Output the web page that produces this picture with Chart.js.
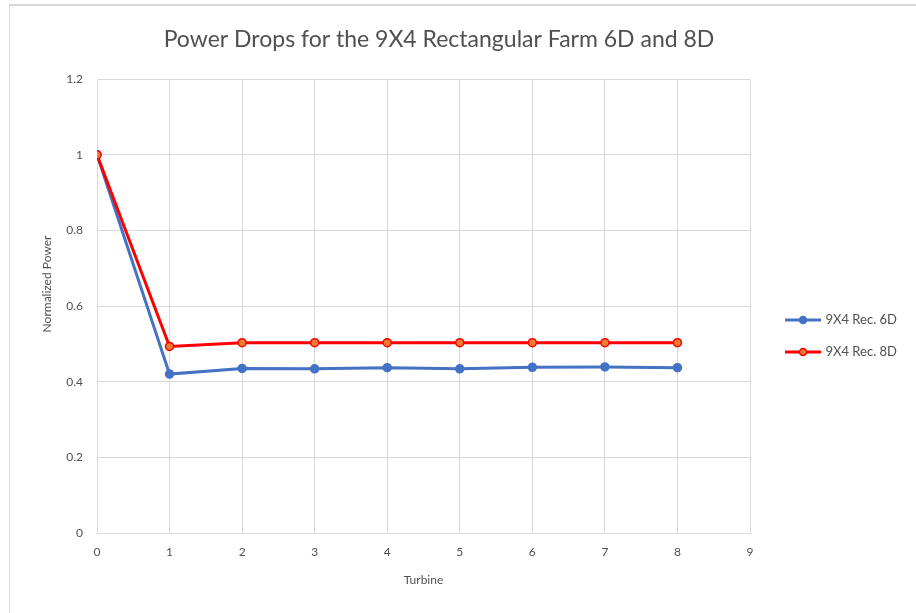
<!DOCTYPE html>
<html>
<head>
<meta charset="utf-8">
<script src="https://cdn.jsdelivr.net/npm/chart.js@4"></script>
<style>
  html, body { margin: 0; padding: 0; background: #ffffff; }
  body { width: 916px; height: 613px; position: relative; overflow: hidden; }
  #frame { position: absolute; left: 9px; top: 4px; width: 1000px; height: 700px;
           border-left: 1px solid #d9d9d9; border-top: 2px solid #d9d9d9; box-sizing: border-box; }
  #wrap { position: absolute; left: 0; top: 0; width: 916px; height: 613px; }
</style>
</head>
<body>
<div id="frame"></div>
<div id="wrap"><canvas id="c" width="916" height="613"></canvas></div>
<script>
// ---- data ----
const chartTitle = 'Power Drops for the 9X4 Rectangular Farm 6D and 8D';
const xAxisTitle = 'Turbine';
const yAxisTitle = 'Normalized Power';
const turbines = [0, 1, 2, 3, 4, 5, 6, 7, 8];
const seriesNames = ['9X4 Rec. 6D', '9X4 Rec. 8D'];
const rec6D = [1.0, 0.420, 0.435, 0.434, 0.437, 0.434, 0.438, 0.439, 0.437];
const rec8D = [1.0, 0.493, 0.503, 0.503, 0.503, 0.503, 0.503, 0.503, 0.503];
const xTickValues = [0, 1, 2, 3, 4, 5, 6, 7, 8, 9];
const xTickLabels = ['0', '1', '2', '3', '4', '5', '6', '7', '8', '9'];
const yTickValues = [0, 0.2, 0.4, 0.6, 0.8, 1.0, 1.2];
const yTickLabels = ['0', '0.2', '0.4', '0.6', '0.8', '1', '1.2'];

// ---- styles ----
const FONT = 'Lato, "Open Sans", sans-serif';
const TEXT = '#505050';
const GRID = '#d9d9d9';
const colors = [
  { line: '#4472C4', fill: '#4472C4' },
  { line: '#FF0000', fill: '#ED7D31' }
];

function makeIcon(c) {
  const cv = document.createElement('canvas');
  cv.width = 36; cv.height = 12;
  const g = cv.getContext('2d');
  g.strokeStyle = c.line; g.lineWidth = 3;
  g.beginPath(); g.moveTo(0, 6); g.lineTo(36, 6); g.stroke();
  g.beginPath(); g.arc(18, 6, 3.5, 0, Math.PI * 2);
  g.fillStyle = c.fill; g.fill();
  g.lineWidth = 1.5; g.strokeStyle = c.line; g.stroke();
  return cv;
}
const legendIcons = colors.map(makeIcon);

const seriesValues = [rec6D, rec8D];
const datasets = seriesValues.map((vals, i) => ({
  label: seriesNames[i],
  data: turbines.map((t, k) => ({ x: t, y: vals[k] })),
  borderColor: colors[i].line,
  backgroundColor: colors[i].fill,
  pointBackgroundColor: colors[i].fill,
  pointBorderColor: colors[i].line,
  pointBorderWidth: 1.5,
  pointRadius: 4,
  borderWidth: 3,
  tension: 0,
  order: i === 0 ? 1 : 0
}));

const layoutPlugin = {
  id: 'layoutTweak',
  afterInit(chart) {
    const lg = chart.legend;
    const fit = lg.fit;
    lg.fit = function () { fit.call(this); if (this.options.position === 'right') this.width = 166; };
  },
  afterLayout(chart) {
    const lg = chart.legend;
    const pad = lg.options.labels.padding;
    const w = lg.right - lg.left;
    lg.left = 787 - pad; lg.right = lg.left + w;
    const h = lg.bottom - lg.top;
    lg.top = 320 - pad - 6.5; lg.bottom = lg.top + h;
    const tb = chart.titleBlock;
    tb.left -= 19; tb.right -= 19;
  },
  afterDraw(chart) {
    const ctx = chart.ctx;
    ctx.save();
    ctx.translate(47, 284);
    ctx.rotate(-Math.PI / 2);
    ctx.font = '12px ' + FONT;
    ctx.fillStyle = TEXT;
    ctx.textAlign = 'center';
    ctx.textBaseline = 'middle';
    ctx.fillText(yAxisTitle, 0, 0);
    ctx.restore();
  }
};

new Chart(document.getElementById('c'), {
  type: 'line',
  data: { datasets },
  plugins: [layoutPlugin],
  options: {
    responsive: false,
    animation: false,
    devicePixelRatio: 1,
    layout: { padding: 0 },
    plugins: {
      tooltip: { enabled: false },
      title: {
        display: true,
        text: chartTitle,
        color: TEXT,
        font: { family: FONT, size: 23, weight: 'normal' },
        padding: { top: 26.2, bottom: 25.2 }
      },
      legend: {
        position: 'right',
        align: 'start',
        labels: {
          usePointStyle: true,
          pointStyleWidth: 32,
          padding: 19,
          color: TEXT,
          font: { family: FONT, size: 13 },
          generateLabels(chart) {
            const items = Chart.defaults.plugins.legend.labels.generateLabels(chart);
            items.sort((a, b) => a.datasetIndex - b.datasetIndex);
            items.forEach(it => { it.pointStyle = legendIcons[it.datasetIndex]; it.fontColor = TEXT; });
            return items;
          }
        }
      }
    },
    scales: {
      x: {
        type: 'linear',
        min: 0, max: 9,
        afterBuildTicks(s) { s.ticks = xTickValues.map(v => ({ value: v })); },
        afterFit(s) { s.height = 80; },
        ticks: {
          color: TEXT, padding: 12,
          font: { family: FONT, size: 12 },
          callback(v) { const i = xTickValues.indexOf(v); return i >= 0 ? xTickLabels[i] : ''; }
        },
        grid: { color: GRID, lineWidth: 1, drawTicks: false },
        border: { color: GRID, width: 1 },
        title: {
          display: true, text: xAxisTitle, color: TEXT,
          font: { family: FONT, size: 12 },
          padding: { top: 0, bottom: 26 }
        }
      },
      y: {
        min: 0, max: 1.2,
        afterBuildTicks(s) { s.ticks = yTickValues.map(v => ({ value: v })); },
        afterFit(s) { s.width = 97; },
        ticks: {
          color: TEXT, padding: 14,
          font: { family: FONT, size: 12 },
          callback(v) {
            const i = yTickValues.findIndex(t => Math.abs(t - v) < 1e-9);
            return i >= 0 ? yTickLabels[i] : '';
          }
        },
        grid: { color: GRID, lineWidth: 1, drawTicks: false },
        border: { color: GRID, width: 1 }
      }
    }
  }
});
</script>
</body>
</html>
